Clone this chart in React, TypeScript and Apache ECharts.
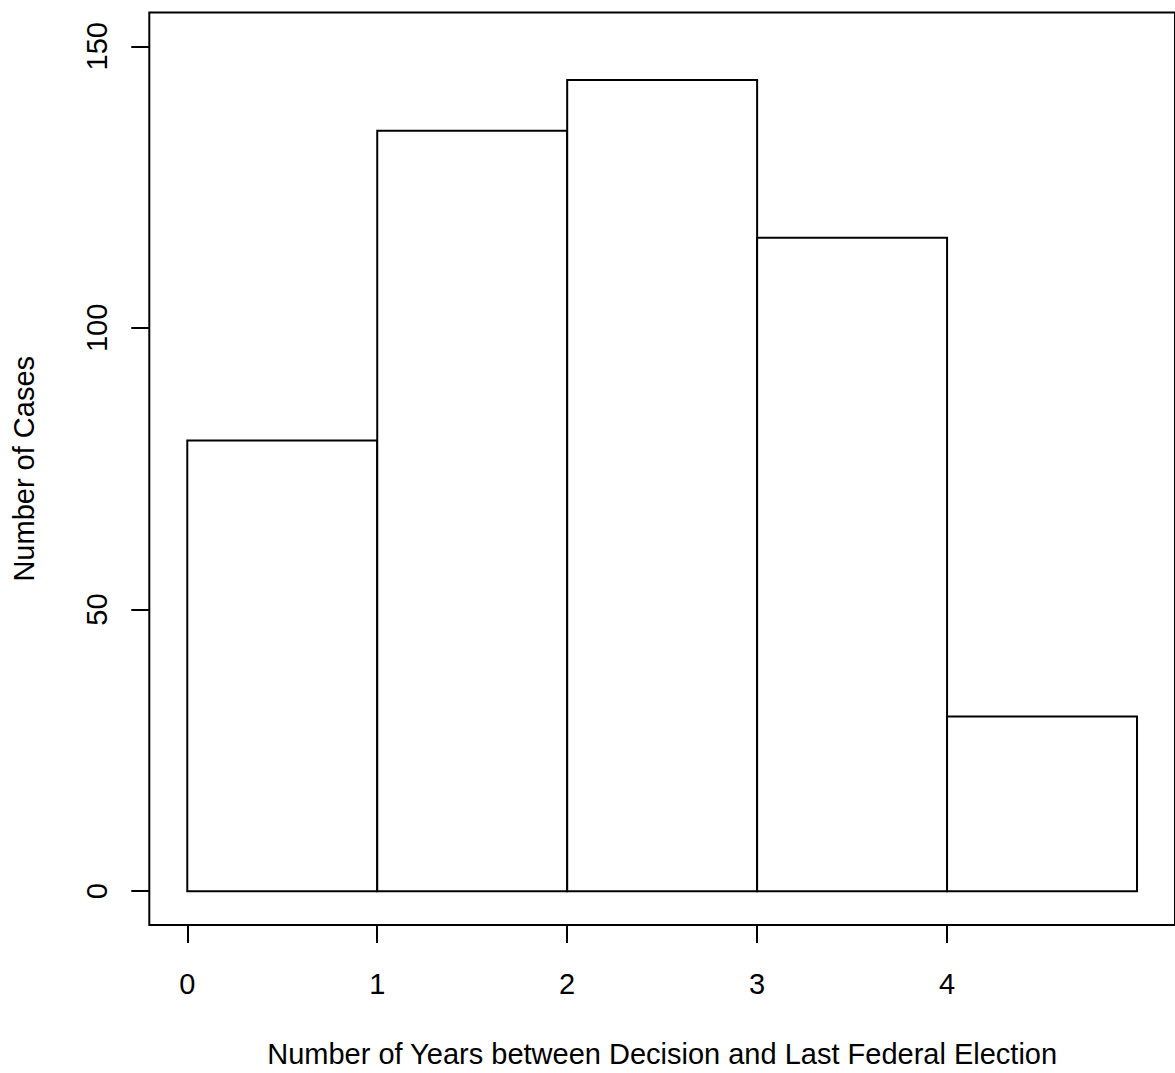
import React, { useEffect, useRef } from "react";
import * as echarts from "echarts";

// Histogram data: bin edges and counts
const binStarts = [0, 1, 2, 3, 4];
const binWidth = 1;
const counts = [80, 135, 144, 116, 31];
const xTicks = [0, 1, 2, 3, 4];
const yTicks = [0, 50, 100, 150];
const xTitle = "Number of Years between Decision and Last Federal Election";
const yTitle = "Number of Cases";

const FONT = "'Liberation Sans', Arial, Helvetica, sans-serif";

export default function App() {
  const ref = useRef<HTMLDivElement>(null);
  useEffect(() => {
    if (!ref.current) return;
    const chart = echarts.init(ref.current, null, { renderer: "svg" });
    const data = binStarts.map((b, i) => [b, b + binWidth, counts[i]]);
    chart.setOption({
      animation: false,
      backgroundColor: "#fff",
      textStyle: { fontFamily: FONT, color: "#000" },
      grid: {
        left: 149.3,
        top: 12.5,
        width: 1027,
        height: 919.5,
        show: true,
        borderColor: "#000",
        borderWidth: 2,
        backgroundColor: "transparent",
        containLabel: false,
      },
      xAxis: {
        type: "value",
        min: -0.2,
        max: 5.2,
        axisLine: { show: false, onZero: false },
        splitLine: { show: false },
        axisTick: {
          show: true,
          customValues: xTicks,
          length: 18,
          lineStyle: { color: "#000", width: 2 },
        },
        axisLabel: {
          show: true,
          customValues: xTicks,
          fontSize: 29,
          color: "#000",
          fontFamily: FONT,
          margin: 44,
        },
        name: xTitle,
        nameLocation: "middle",
        nameGap: 114,
        nameTextStyle: { fontSize: 29, color: "#000", fontFamily: FONT },
      },
      yAxis: {
        type: "value",
        min: -6,
        max: 156,
        axisLine: { show: false, onZero: false },
        splitLine: { show: false },
        axisTick: {
          show: true,
          customValues: yTicks,
          length: 18,
          lineStyle: { color: "#000", width: 2 },
        },
        axisLabel: {
          show: true,
          customValues: yTicks,
          fontSize: 29,
          color: "#000",
          fontFamily: FONT,
          rotate: 90,
          margin: 38,
        },
        name: yTitle,
        nameLocation: "middle",
        nameGap: 111,
        nameTextStyle: { fontSize: 29, color: "#000", fontFamily: FONT },
      },
      series: [
        {
          type: "custom",
          data,
          encode: { x: [0, 1], y: 2 },
          renderItem: (params: any, api: any) => {
            const p0 = api.coord([api.value(0), 0]);
            const p1 = api.coord([api.value(1), api.value(2)]);
            return {
              type: "rect",
              shape: {
                x: p0[0],
                y: p1[1],
                width: p1[0] - p0[0],
                height: p0[1] - p1[1],
              },
              style: { fill: "#fff", stroke: "#000", lineWidth: 2 },
            };
          },
        },
      ],
    });
    return () => chart.dispose();
  }, []);
  return (
    <div
      ref={ref}
      style={{ position: "fixed", left: 0, top: 0, width: 1175, height: 1073, background: "#fff" }}
    />
  );
}
